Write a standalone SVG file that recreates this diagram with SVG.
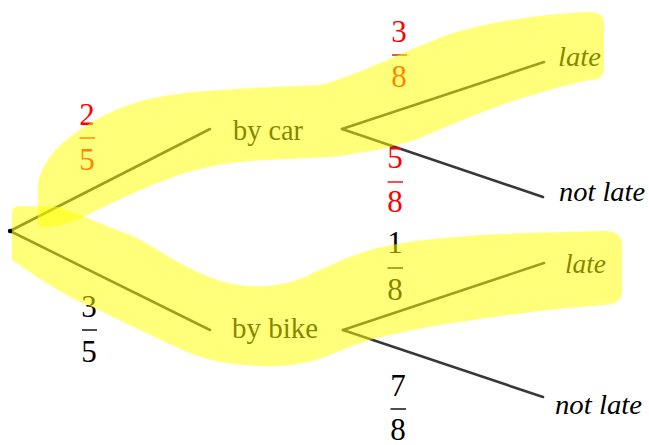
<svg xmlns="http://www.w3.org/2000/svg" width="649" height="445" viewBox="0 0 649 445">
<style>
.lbl{font-family:"Liberation Serif","Times New Roman",serif;font-size:30px;fill:#000}
.it{font-family:"Liberation Serif","Times New Roman",serif;font-size:28px;font-style:italic;fill:#000}
.num{font-family:"Liberation Serif","Times New Roman",serif;font-size:31px;text-anchor:middle}
.red{fill:#ff0000}
.blk{fill:#000}
.bar{stroke-width:1.4}
.edge{stroke:#383838;stroke-width:2.6;fill:none;stroke-linecap:round}
.hl{fill:#ffff00;fill-opacity:0.52}
</style>
<rect width="649" height="445" fill="#fff"/>
<g id="connectors">
<line class="edge" x1="10" y1="231" x2="210" y2="129"/>
<line class="edge" x1="10" y1="231" x2="210" y2="330"/>
<line class="edge" x1="342" y1="129" x2="544" y2="62"/>
<line class="edge" x1="342" y1="129" x2="543" y2="197"/>
<line class="edge" x1="343" y1="330" x2="544" y2="263"/>
<line class="edge" x1="343" y1="330" x2="543" y2="397"/>
</g>
<g id="probabilities">
<g id="p-car"><text class="num red" x="87" y="125">2</text><line class="bar" x1="79.5" y1="138" x2="95" y2="138" stroke="#ff0000"/><text class="num red" x="87" y="170">5</text></g>
<g id="p-bike"><text class="num blk" x="89" y="317">3</text><line class="bar" x1="82" y1="330" x2="97" y2="330" stroke="#000"/><text class="num blk" x="89" y="362">5</text></g>
<g id="p-car-late"><text class="num red" x="399" y="42">3</text><line class="bar" x1="392" y1="55" x2="407" y2="55" stroke="#ff0000"/><text class="num red" x="399" y="87">8</text></g>
<g id="p-car-notlate"><text class="num red" x="395" y="168">5</text><line class="bar" x1="387.5" y1="182" x2="403" y2="182" stroke="#ff0000"/><text class="num red" x="395" y="212">8</text></g>
<g id="p-bike-late"><text class="num blk" x="395" y="253">1</text><line class="bar" x1="387.5" y1="268" x2="403" y2="268" stroke="#000"/><text class="num blk" x="395" y="300">8</text></g>
<g id="p-bike-notlate"><text class="num blk" x="398" y="396">7</text><line class="bar" x1="390.5" y1="409" x2="406" y2="409" stroke="#000"/><text class="num blk" x="398" y="440">8</text></g>
</g>
<g id="root"><circle cx="10" cy="231" r="2.2" fill="#000"/></g>
<g id="car"><text class="lbl" x="233" y="140" textLength="70" lengthAdjust="spacingAndGlyphs">by car</text></g>
<g id="bike"><text class="lbl" x="232" y="338" textLength="86" lengthAdjust="spacingAndGlyphs">by bike</text></g>
<g id="car-late"><text class="it" x="558" y="66" textLength="43" lengthAdjust="spacingAndGlyphs">late</text></g>
<g id="car-notlate"><text class="it" x="559" y="201" textLength="86" lengthAdjust="spacingAndGlyphs">not late</text></g>
<g id="bike-late"><text class="it" x="565" y="273" textLength="41" lengthAdjust="spacingAndGlyphs">late</text></g>
<g id="bike-notlate"><text class="it" x="555" y="414" textLength="87" lengthAdjust="spacingAndGlyphs">not late</text></g>
<g id="highlights">
<path class="hl" d="M38,225 L38,182 C42,165 55,148 70,137 C95,118 125,102 170,95 C210,89 260,88 320,85 C360,75 400,52 453,33 C490,22 540,14 590,12 Q604,12 604,25 L604,68 Q604,80 590,80 C570,84 540,92 510,102 C480,112 450,125 420,138 C395,147 365,153 330,157 C300,159 270,159 240,162 C210,165 185,172 160,182 C130,194 105,206 83,217 C70,223 60,226 50,227 Q38,228 38,225 Z"/>
<path class="hl" d="M12,212 Q12,206 20,206 L58,207 C75,212 95,222 133,236 C160,250 180,266 210,277 C235,288 270,290 300,279 C330,266 355,252 387,246 C410,241 440,238 480,235 C520,233 560,232 605,231 Q622,231 622,245 L622,291 Q622,304 605,305 C570,307 530,312 487,318 C450,323 420,328 390,335 C370,339 350,346 330,355 C310,363 290,367 260,366 C235,365 215,362 195,355 C165,343 150,334 133,327 C115,318 100,310 80,302 C55,290 30,272 12,260 Z"/>
</g>
</svg>
